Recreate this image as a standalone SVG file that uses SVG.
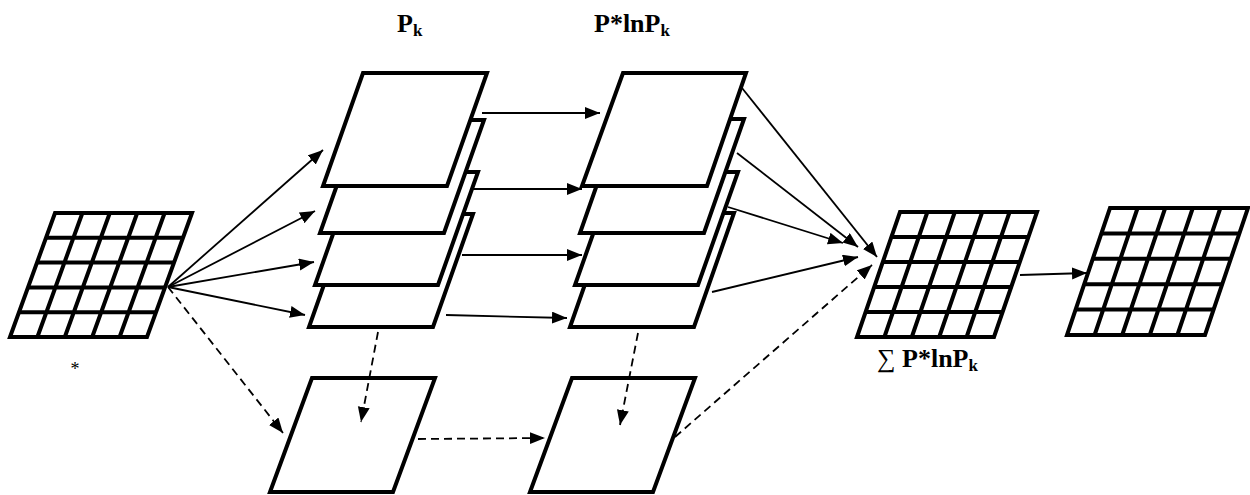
<svg xmlns="http://www.w3.org/2000/svg" width="1250" height="495" viewBox="0 0 1250 495">
<style>
.plate{fill:#fff;stroke:#000;stroke-width:4;stroke-linejoin:miter}
.grid{fill:#fff;stroke:#000;stroke-width:4;stroke-linejoin:miter}
.conn{fill:none;stroke:#000;stroke-width:1.8}
.dash{fill:none;stroke:#000;stroke-width:1.8;stroke-dasharray:8,5}
.lbl{font-family:"Liberation Serif","DejaVu Serif",serif;font-weight:bold;font-size:26px;fill:#000}
.sub{font-size:17px}
.sym{font-family:"Liberation Serif","DejaVu Serif",serif;font-weight:normal;font-size:26px;fill:#000}
.star{font-family:"Liberation Serif","DejaVu Serif",serif;font-size:18px;fill:#000}
</style>
<defs>
<marker id="ah" markerUnits="userSpaceOnUse" markerWidth="16" markerHeight="13" refX="15" refY="6" orient="auto">
<path d="M0,0 L15,6 L0,12 z" fill="#000"/>
</marker>
</defs>

<g id="input-grid">
<path class="grid" d="M55,213 L192,213 L147,337 L10,337 Z"/>
<path class="grid" d="M46,237.8 L183,237.8 M37,262.6 L174,262.6 M28,287.4 L165,287.4 M19,312.2 L156,312.2 M82.4,213 L37.4,337 M109.8,213 L64.8,337 M137.2,213 L92.2,337 M164.6,213 L119.6,337"/>
</g>

<g id="pk-stack">
<polygon class="plate" points="349,214 473,214 433,327 309,327"/>
<polygon class="plate" points="355,172 478,172 438,285 315,285"/>
<polygon class="plate" points="360,120 484,120 444,233 320,233"/>
<polygon class="plate" points="363,73 487,73 447,186 323,186"/>
</g>

<g id="plnp-stack">
<polygon class="plate" points="610,213 734,213 694,327 570,327"/>
<polygon class="plate" points="615,172 738,172 698,285 575,285"/>
<polygon class="plate" points="620,119 744,119 704,233 580,233"/>
<polygon class="plate" points="623,73 746,73 707,186 582,186"/>
</g>

<g id="bottom-left-plate">
<polygon class="plate" points="312,378 435,378 393,492 270,492"/>
</g>
<g id="bottom-right-plate">
<polygon class="plate" points="572,378 695,378 653,492 530,492"/>
</g>

<g id="sum-grid">
<path class="grid" d="M900,212 L1037,212 L994,337 L857,337 Z"/>
<path class="grid" d="M891.4,237 L1028.4,237 M882.8,262 L1019.8,262 M874.2,287 L1011.2,287 M865.6,312 L1002.6,312 M927.4,212 L884.4,337 M954.8,212 L911.8,337 M982.2,212 L939.2,337 M1009.6,212 L966.6,337"/>
</g>

<g id="output-grid">
<path class="grid" d="M1110,208 L1248,208 L1205,335 L1067,335 Z"/>
<path class="grid" d="M1101.4,233.4 L1239.4,233.4 M1092.8,258.8 L1230.8,258.8 M1084.2,284.2 L1222.2,284.2 M1075.6,309.6 L1213.6,309.6 M1137.6,208 L1094.6,335 M1165.2,208 L1122.2,335 M1192.8,208 L1149.8,335 M1220.4,208 L1177.4,335"/>
</g>

<g id="connectors">
<line class="conn" x1="168" y1="287" x2="323" y2="150" marker-end="url(#ah)"/>
<line class="conn" x1="168" y1="287" x2="315" y2="211" marker-end="url(#ah)"/>
<line class="conn" x1="168" y1="287" x2="314" y2="262" marker-end="url(#ah)"/>
<line class="conn" x1="168" y1="287" x2="305" y2="315" marker-end="url(#ah)"/>
<line class="dash" x1="168" y1="287" x2="283" y2="433" marker-end="url(#ah)"/>
<line class="conn" x1="482" y1="113" x2="600" y2="113" marker-end="url(#ah)"/>
<line class="conn" x1="473" y1="189" x2="582" y2="189" marker-end="url(#ah)"/>
<line class="conn" x1="462" y1="255" x2="582" y2="255" marker-end="url(#ah)"/>
<line class="conn" x1="446" y1="315" x2="567" y2="318" marker-end="url(#ah)"/>
<line class="dash" x1="378" y1="332" x2="361" y2="422" marker-end="url(#ah)"/>
<line class="dash" x1="418" y1="439" x2="545" y2="438" marker-end="url(#ah)"/>
<line class="dash" x1="638" y1="333" x2="620" y2="425" marker-end="url(#ah)"/>
<line class="conn" x1="742" y1="88" x2="877" y2="257" marker-end="url(#ah)"/>
<line class="conn" x1="737" y1="153" x2="858" y2="247" marker-end="url(#ah)"/>
<line class="conn" x1="728" y1="207" x2="843" y2="243" marker-end="url(#ah)"/>
<line class="conn" x1="712" y1="292" x2="858" y2="257" marker-end="url(#ah)"/>
<line class="dash" x1="675" y1="437" x2="872" y2="265" marker-end="url(#ah)"/>
<line class="conn" x1="1020" y1="275" x2="1087" y2="273" marker-end="url(#ah)"/>
</g>

<g id="labels">
<text class="lbl" x="397" y="32">P<tspan class="sub" dy="4">k</tspan></text>
<text class="lbl" x="594" y="32">P*lnP<tspan class="sub" dy="4">k</tspan></text>
<text x="877" y="367"><tspan class="sym">∑ </tspan><tspan class="lbl">P*lnP</tspan><tspan class="lbl sub" dy="4">k</tspan></text>
<text class="star" x="75" y="375" text-anchor="middle">*</text>
</g>
</svg>
